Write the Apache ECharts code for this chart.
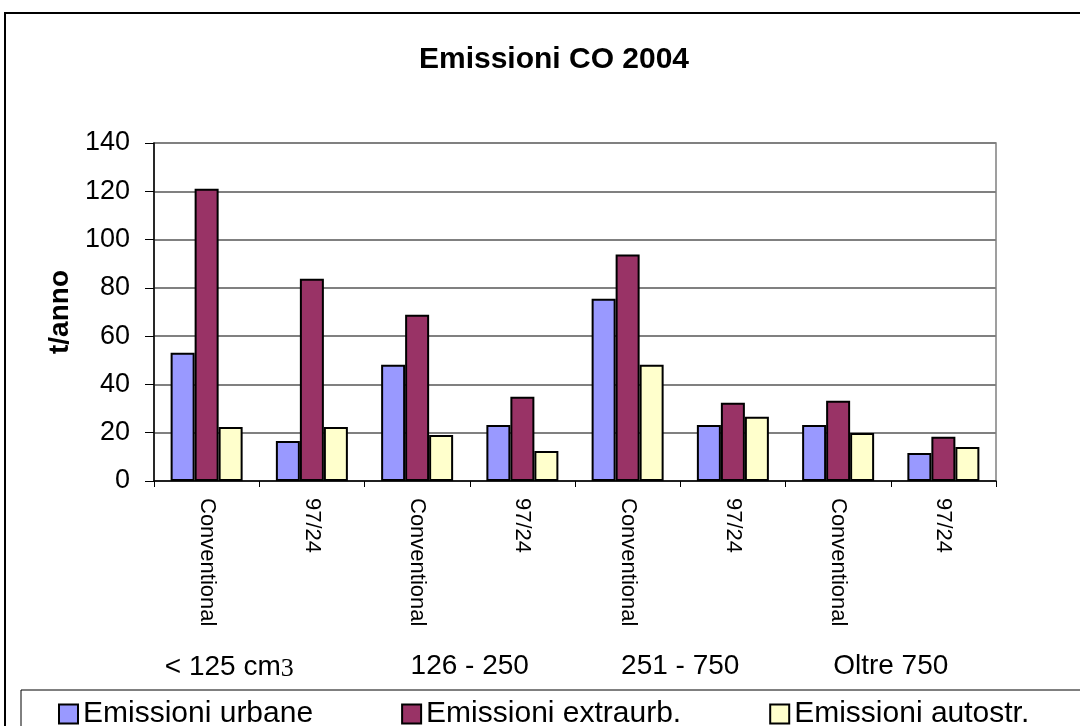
<!DOCTYPE html>
<html>
<head>
<meta charset="utf-8">
<script src="https://cdn.jsdelivr.net/npm/echarts@6/dist/echarts.min.js"></script>
<style>
html,body{margin:0;padding:0;background:#fff;}
#chart{width:1080px;height:726px;}
</style>
</head>
<body>
<div id="chart"></div>
<script>
const categories = ['Conventional','97/24','Conventional','97/24','Conventional','97/24','Conventional','97/24'];
const groups = ['< 125 cm3','126 - 250','251 - 750','Oltre 750'];
const seriesNames = ['Emissioni urbane','Emissioni extraurb.','Emissioni autostr.'];
const urbane = [53.1, 16.6, 48.1, 23.2, 75.5, 23.2, 23.2, 11.6];
const extraurb = [121.0, 83.8, 68.9, 34.9, 93.8, 32.4, 33.2, 18.3];
const autostr = [22.4, 22.4, 19.1, 12.4, 48.1, 26.6, 19.9, 14.1];
const yTicks = {min: 0, max: 140, interval: 20};

const FONT = '"Liberation Sans", Arial, sans-serif';
const chart = echarts.init(document.getElementById('chart'), null, {renderer: 'canvas'});
const colors = ['#9999FF', '#993366', '#FFFFCC'];
const seriesData = [urbane, extraurb, autostr];

chart.setOption({
  backgroundColor: '#ffffff',
  animation: false,
  textStyle: {fontFamily: FONT, color: '#000'},
  title: {
    text: 'Emissioni CO 2004',
    left: 549, top: 40, textAlign: 'center',
    textStyle: {fontFamily: FONT, fontSize: 30, fontWeight: 'bold', color: '#000'}
  },
  graphic: [
    {type: 'rect', shape: {x: 5, y: 13, width: 1200, height: 900}, style: {fill: 'none', stroke: '#000', lineWidth: 2}, silent: true, z: 100},
    {type: 'rect', shape: {x: 21, y: 690, width: 1200, height: 100}, style: {fill: 'none', stroke: '#000', lineWidth: 1}, silent: true, z: 100}
  ],
  legend: {
    left: 58, top: 699, padding: 0,
    itemWidth: 19, itemHeight: 19, itemGap: 88,
    icon: 'rect',
    data: seriesNames,
    textStyle: {fontFamily: FONT, fontSize: 30, color: '#000'}
  },
  grid: {
    left: 154, right: 84, top: 143, bottom: 245,
    show: true, borderColor: '#808080', borderWidth: 1.5, backgroundColor: '#fff'
  },
  xAxis: [
    {
      type: 'category', data: categories,
      axisLine: {lineStyle: {color: '#000', width: 1.5}},
      axisTick: {show: true, interval: 0, length: 6, lineStyle: {color: '#000'}},
      axisLabel: {interval: 0, rotate: -90, margin: 17, fontFamily: FONT, fontSize: 22, color: '#000'}
    },
    {
      type: 'category', data: groups, position: 'bottom',
      axisLine: {show: false}, axisTick: {show: false},
      axisLabel: {
        interval: 0, margin: 171, fontFamily: FONT, fontSize: 28, color: '#000',
        formatter: function (v, i) {
          if (i === 0 && /3$/.test(v)) { return '{a|' + v.slice(0, -1) + '}{b|3}'; }
          return v;
        },
        rich: {
          a: {fontFamily: FONT, fontSize: 28, color: '#000', padding: [0, 0, 0, 0]},
          b: {fontFamily: '"Liberation Serif", "DejaVu Serif", serif', fontSize: 26, color: '#000', padding: [4, 60, 0, 0]}
        }
      }
    }
  ],
  yAxis: {
    type: 'value', min: yTicks.min, max: yTicks.max, interval: yTicks.interval,
    name: 't/anno', nameLocation: 'middle', nameRotate: 90, nameGap: 80,
    nameTextStyle: {fontFamily: FONT, fontSize: 28, fontWeight: 'bold', color: '#000'},
    axisLine: {show: true, lineStyle: {color: '#000', width: 1.5}},
    axisTick: {show: true, length: 9, lineStyle: {color: '#000'}},
    axisLabel: {margin: 24, fontFamily: FONT, fontSize: 27, color: '#000'},
    splitLine: {show: true, lineStyle: {color: '#808080', width: 2}}
  },
  series: seriesNames.map((n, i) => ({
    name: n, type: 'bar', xAxisIndex: 0,
    data: seriesData[i],
    barWidth: 24, barGap: '0%',
    itemStyle: {color: colors[i], borderColor: '#000', borderWidth: 2}
  }))
});
</script>
</body>
</html>
